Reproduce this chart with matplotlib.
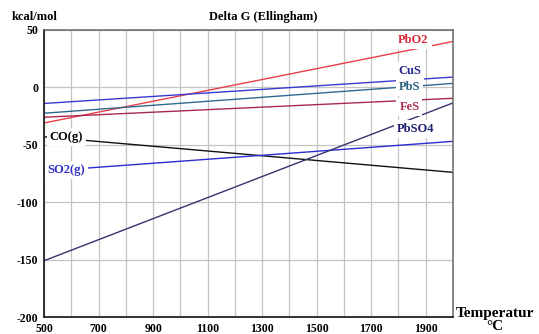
import matplotlib
matplotlib.use("Agg")
import matplotlib.pyplot as plt
import numpy as np

plt.rcParams['font.family'] = ['Liberation Serif', 'DejaVu Serif']
plt.rcParams['font.weight'] = 'bold'
plt.rcParams['axes.unicode_minus'] = False

# Data: temperature range (°C) and ΔG (kcal/mol) at the ends
temps = [500, 2000]
pbo2 = [-31, 40]
cus = [-14, 9]
pbs = [-22.5, 3.5]
fes = [-26, -9.5]
co_g = [-43, -74]
so2_g = [-73, -47]
pbso4 = [-151, -13.5]

series_names = ["PbO2", "CuS", "PbS", "FeS", "CO(g)", "SO2(g)", "PbSO4"]
series_vals = [pbo2, cus, pbs, fes, co_g, so2_g, pbso4]
line_colors = ["#e8404a", "#3a3ad0", "#2e6a90", "#a8284e", "#111111", "#2c2cd0", "#34346e"]
label_colors = ["#d42a3a", "#2a2a90", "#2a6080", "#b03050", "#000000", "#3030c8", "#202070"]
# label anchor positions in data coordinates (x, y)
label_pos = [(1855, 41), (1840, 14.5), (1840, 0.5), (1840, -17), (582, -43.5), (582, -72), (1862, -36)]

xticks = [500, 700, 900, 1100, 1300, 1500, 1700, 1900]
yticks = [50, 0, -50, -100, -150, -200]

W, H = 539, 334
fig = plt.figure(figsize=(W / 100, H / 100), dpi=100)
ax = fig.add_axes([44 / W, 1 - 317 / H, (453 - 44) / W, (317 - 30) / H])

ax.set_xlim(500, 2000)
ax.set_ylim(-200, 50)
ax.set_xticks(np.arange(600, 2000, 100), minor=True)
ax.set_xticks(xticks)
ax.set_yticks(yticks)
ax.grid(True, which='both', axis='x', color='#c4c4c4', lw=0.9)
ax.grid(True, which='major', axis='y', color='#c4c4c4', lw=0.9)
ax.set_axisbelow(True)
ax.tick_params(which='both', length=0, labelsize=8.5, pad=4)
for lab in ax.get_xticklabels() + ax.get_yticklabels():
    lab.set_fontweight('bold')

for s in ['left', 'bottom']:
    ax.spines[s].set_color('#222222')
    ax.spines[s].set_linewidth(1.3)
for s in ['top', 'right']:
    ax.spines[s].set_color('#666666')
    ax.spines[s].set_linewidth(1.1)

for name, vals, lc, tc, (lx, ly) in zip(series_names, series_vals, line_colors, label_colors, label_pos):
    ax.plot(temps, vals, color=lc, lw=1.0, zorder=2)
    ax.text(lx, ly, name, color=tc, fontsize=9, fontweight='bold', ha='center', va='center',
            zorder=3, bbox=dict(facecolor='white', edgecolor='none', pad=2.2))

fig.text(12 / W, 1 - 17 / H, "kcal/mol", fontsize=9, fontweight='bold', ha='left', va='center')
fig.text(263 / W, 1 - 17 / H, "Delta G (Ellingham)", fontsize=9, fontweight='bold', ha='center', va='center')
fig.text(456 / W, 1 - 313 / H, "Temperatur", fontsize=11, fontweight='bold', ha='left', va='center')
fig.text(495 / W, 1 - 326 / H, "°C", fontsize=11, fontweight='bold', ha='center', va='center')

fig.savefig("out.png", dpi=100)
